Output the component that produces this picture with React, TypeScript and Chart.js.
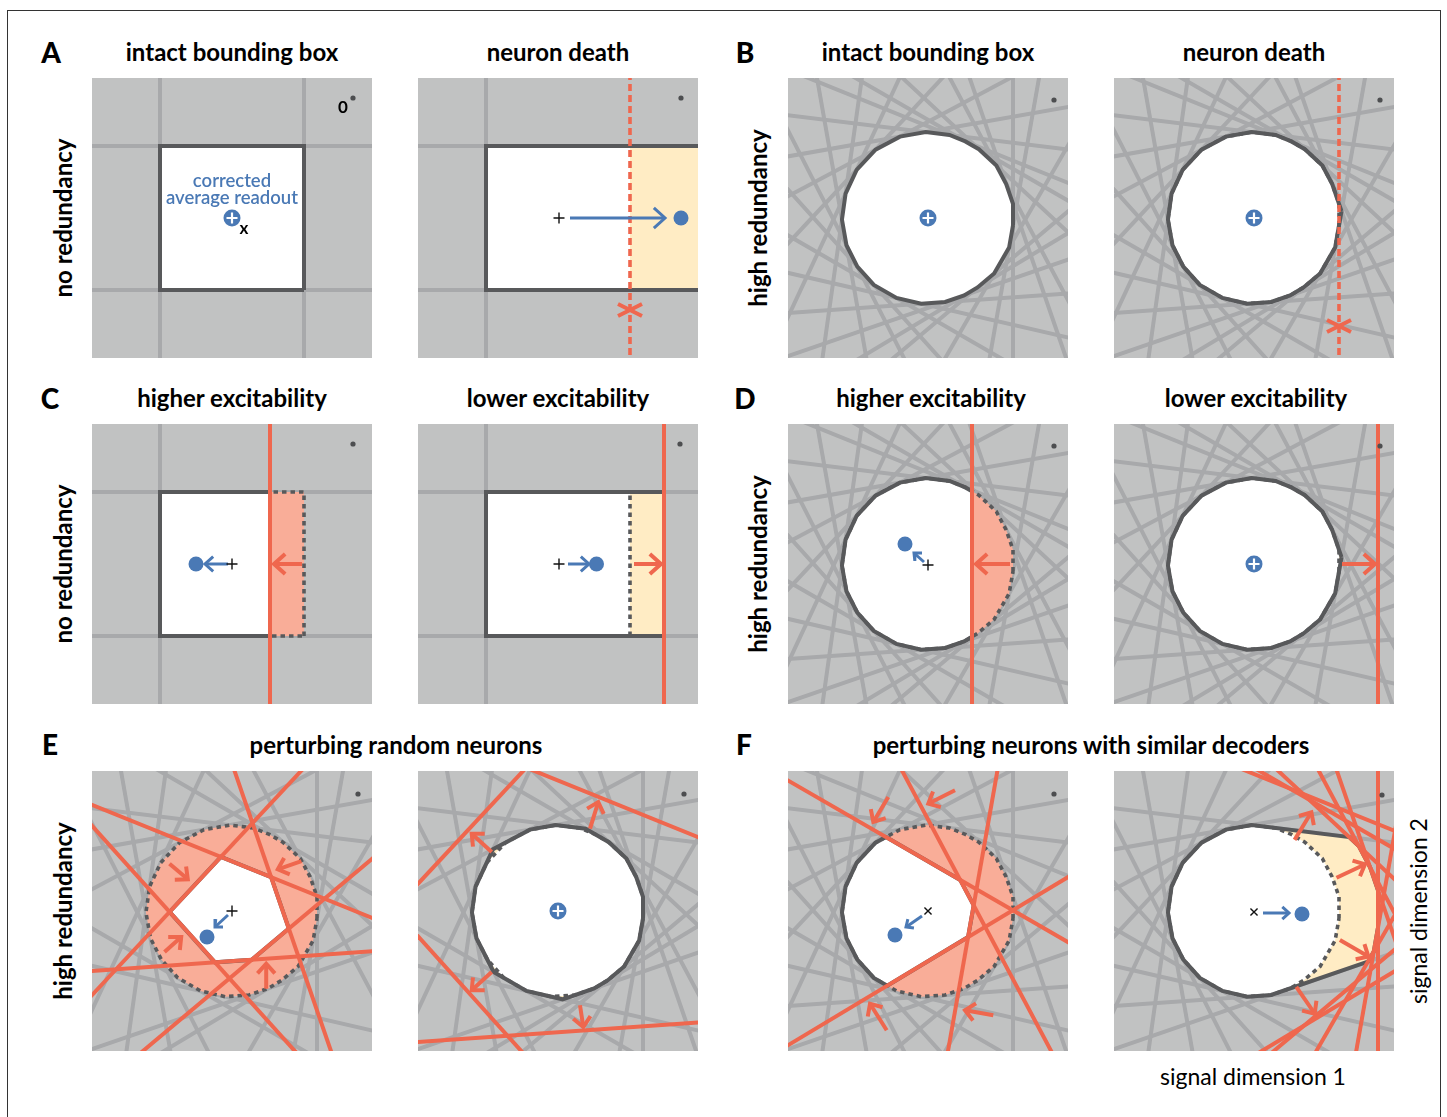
import React, { useEffect, useRef } from 'react';
import { Chart, registerables } from 'chart.js';
Chart.register(...registerables);

// ---------------- data ----------------
// decoder (normal) angles in degrees and thresholds (distance of bounding line from centre)
const boxAngles = [0, 90, 180, 270];
const boxThreshold = 72;
const netAngles = [0, 19, 28, 47, 60, 68, 83, 100, 118, 137, 155, 172, 190, 207, 222, 240, 257, 274, 289, 301, 310, 330, 350];
const netThreshold = 85;

// perturbed neurons: angle -> new threshold
const boxDeadAngles = [0];
const netDeadAngles = [0];
const boxUpAngles = [0];
const boxUpThr = [38];
const boxDownAngles = [0];
const boxDownThr = [106];
const netUpAngles = [0];
const netUpThr = [44];
const netDownAngles = [0];
const netDownThr = [124];
const randUpAngles = [19, 68, 137, 222, 274, 310];
const randUpThr = [48, 46, 45, 47, 50, 50];
const randDownAngles = [68, 137, 222, 274];
const randDownThr = [121, 121, 121, 121];
const simUpAngles = [60, 28, 350, 301];
const simUpThr = [43, 43, 44, 43];
const simDownAngles = [68, 60, 47, 28, 19, 0, 350, 330, 310, 301];
const simDownThr = [127, 124, 119, 123, 124, 124, 125, 124, 120, 124];

// threshold-shift arrows [x1, y1, x2, y2]
const redArrowsC1 = [[70, 0, 42, 0]];
const redArrowsC2 = [[76, 0, 103, 0]];
const redArrowsD1 = [[82, 0, 48, 0]];
const redArrowsD2 = [[88, 0, 121, 0]];
const redArrowsE1 = [[-62.5, 47.3, -44.2, 31.7], [69.4, 49.8, 45.8, 41.7], [-67.5, -41, -50.8, -26], [34.2, -77.7, 34.2, -52.7]];
const redArrowsE2 = [[-66.3, 59, -86.3, 77.3], [32, 82.3, 40.3, 109], [-66.3, -61, -86.3, -79.3], [22, -94.3, 25.3, -116]];
const redArrowsF1 = [[-39.7, 114, -54.7, 89], [27, 120.7, 0.3, 107.3], [-41.3, -119.3, -58, -92.7], [65.3, -104.3, 37, -99.3]];
const redArrowsF2 = [[40.6, 71.1, 57.4, 98.7], [82.5, 33.2, 111, 46.7], [85.9, -28.9, 114.4, -45.6], [42.3, -75.8, 60.7, -102.7]];

// readout shift arrows [x1, y1, x2, y2] and readout positions [x, y]
const blueArrowA2 = [12, 0, 107, 0];
const blueArrowC1 = [-4, 0, -27, 0];
const blueArrowC2 = [10, 0, 31, 0];
const blueArrowD1 = [-4, 2, -14, 11];
const blueArrowE1 = [-4, -4, -17, -16];
const blueArrowF1 = [-6, -5, -22, -16];
const blueArrowF2 = [9, -2, 35, -2];
const readoutA2 = [123, 0];
const readoutC1 = [-36, 0];
const readoutC2 = [38.5, 0];
const readoutD1 = [-23, 20];
const readoutE1 = [-25, -26];
const readoutF1 = [-33, -24];
const readoutF2 = [48, -3];
const deadMarkA2 = [72, -92];
const deadMarkB2 = [85, -108];
const originBox = [121, 120];
const originNet = [126, 118];

// ---------------- styles ----------------
const BG = '#c1c2c2';
const GRAY = '#a8a9ab';
const DARK = '#58595b';
const RED = '#ef674e';
const SALMON = '#f9ad98';
const YELLOW = '#ffecc4';
const BLUE = '#4a79b5';
const FONT = "Lato, 'Open Sans', sans-serif";
const PANEL = 280;
const HALF = 140;

type Pt = { x: number; y: number };
type HL = { a: number; d: number };

function seg(a: number, d: number): Pt[] {
  const r = (a * Math.PI) / 180;
  const c = Math.cos(r), s = Math.sin(r);
  const tx = d * c, ty = d * s, e = 500;
  return [{ x: tx + s * e, y: ty - c * e }, { x: tx - s * e, y: ty + c * e }];
}

function region(lines: HL[]): Pt[] {
  let poly: Pt[] = [{ x: -400, y: -400 }, { x: 400, y: -400 }, { x: 400, y: 400 }, { x: -400, y: 400 }];
  for (const l of lines) {
    const r = (l.a * Math.PI) / 180;
    const nx = Math.cos(r), ny = Math.sin(r);
    const out: Pt[] = [];
    for (let i = 0; i < poly.length; i++) {
      const P = poly[i], Q = poly[(i + 1) % poly.length];
      const fp = nx * P.x + ny * P.y - l.d, fq = nx * Q.x + ny * Q.y - l.d;
      if (fp <= 0) out.push(P);
      if ((fp < 0 && fq > 0) || (fp > 0 && fq < 0)) {
        const t = fp / (fp - fq);
        out.push({ x: P.x + t * (Q.x - P.x), y: P.y + t * (Q.y - P.y) });
      }
    }
    poly = out;
  }
  return poly;
}

interface Spec {
  left: number; top: number;
  angles: number[]; thr: number;
  pertA?: number[]; pertD?: number[];
  dead?: number[];
  mode: 'none' | 'shrink' | 'expand';
  oldDashed?: boolean;
  redArrows?: number[][]; redHead?: number;
  blueArrow?: number[]; blueHead?: number;
  start?: number[]; startKind?: 'center' | 'plus' | 'cross';
  dot?: number[];
  deadMark?: number[];
  origin: number[];
}

function buildDatasets(s: Spec) {
  const list: any[] = [];
  const line = (data: Pt[], color: string, width: number, extra: any = {}) =>
    list.push({ data, showLine: true, pointRadius: 0, borderColor: color, borderWidth: width, fill: false, borderCapStyle: 'butt', ...extra });
  const area = (poly: Pt[], color: string) =>
    list.push({ data: [...poly, poly[0]], showLine: true, pointRadius: 0, borderColor: 'rgba(0,0,0,0)', borderWidth: 0, backgroundColor: color, fill: 'shape' });
  const point = (p: number[], r: number, style: string, fillC: string, stroke: string, bw: number) =>
    list.push({ data: [{ x: p[0], y: p[1] }], showLine: false, pointRadius: r, pointStyle: style, pointBackgroundColor: fillC, pointBorderColor: stroke, pointBorderWidth: bw });
  const arrow = (a: number[], color: string, width: number, head: number) => {
    const [x1, y1, x2, y2] = a;
    const L = Math.hypot(x2 - x1, y2 - y1);
    const ux = (x2 - x1) / L, uy = (y2 - y1) / L;
    const ang = (42 * Math.PI) / 180;
    const w = (sgn: number) => {
      const c = Math.cos(sgn * ang), sn = Math.sin(sgn * ang);
      return { x: x2 - head * (ux * c - uy * sn), y: y2 - head * (ux * sn + uy * c) };
    };
    line([{ x: x1, y: y1 }, { x: x2 - ux * 1.5, y: y2 - uy * 1.5 }], color, width);
    line([w(1), { x: x2, y: y2 }, w(-1)], color, width, { borderJoinStyle: 'miter' });
  };

  const pertA = s.pertA || [];
  const pertD = s.pertD || [];
  const dead = s.dead || [];
  for (const a of s.angles) if (!pertA.includes(a) && !dead.includes(a)) line(seg(a, s.thr), GRAY, 4);

  const oldLines = s.angles.map((a) => ({ a, d: s.thr }));
  const newLines = s.angles.filter((a) => !dead.includes(a)).map((a) => {
    const k = pertA.indexOf(a);
    return { a, d: k >= 0 ? pertD[k] : s.thr };
  });
  const oldPoly = region(oldLines);
  const newPoly = region(newLines);
  if (s.mode === 'none') {
    area(oldPoly, '#ffffff');
  } else if (s.mode === 'shrink') {
    area(oldPoly, SALMON);
    area(newPoly, '#ffffff');
  } else {
    area(newPoly, YELLOW);
    area(oldPoly, '#ffffff');
  }
  if (s.mode !== 'none' && s.oldDashed) line([...oldPoly, oldPoly[0]], DARK, 3.6, { borderDash: [4.5, 4] });
  const outline = s.mode === 'none' ? oldPoly : newPoly;
  line([...outline, outline[0]], DARK, 4, { borderJoinStyle: 'miter' });

  pertA.forEach((a, i) => line(seg(a, pertD[i]), RED, 4));
  dead.forEach((a) => line(seg(a, s.thr), RED, 3.6, { borderDash: [7, 4] }));
  (s.redArrows || []).forEach((a) => arrow(a, RED, 4, s.redHead || 13));
  if (s.deadMark) {
    const [mx, my] = s.deadMark;
    line([{ x: mx - 12, y: my - 6 }, { x: mx + 12, y: my + 6 }], RED, 4);
    line([{ x: mx - 12, y: my + 6 }, { x: mx + 12, y: my - 6 }], RED, 4);
  }
  if (s.blueArrow) arrow(s.blueArrow, BLUE, 3, s.blueHead || 9);
  if (s.dot) point(s.dot, 7.5, 'circle', BLUE, BLUE, 0);
  if (s.start) {
    if (s.startKind === 'center') {
      point(s.start, 8.5, 'circle', BLUE, BLUE, 0);
      point(s.start, 5.5, 'cross', '#ffffff', '#ffffff', 2.2);
    } else if (s.startKind === 'cross') {
      point(s.start, 5, 'crossRot', '#000', '#111', 1.4);
    } else {
      point(s.start, 5.5, 'cross', '#000', '#111', 1.4);
    }
  }
  point(s.origin, 2.6, 'circle', '#4d4e50', '#4d4e50', 0);
  list.forEach((d, i) => (d.order = -i));
  return list;
}

const COLS = [92, 418, 788, 1114];
const ROWS = [78, 424, 771];

const specs: Spec[] = [
  { left: COLS[0], top: ROWS[0], angles: boxAngles, thr: boxThreshold, mode: 'none', start: [0, 0], startKind: 'center', origin: originBox },
  { left: COLS[1], top: ROWS[0], angles: boxAngles, thr: boxThreshold, dead: boxDeadAngles, mode: 'expand', oldDashed: false, blueArrow: blueArrowA2, blueHead: 15, start: [1, 0], startKind: 'plus', dot: readoutA2, deadMark: deadMarkA2, origin: [123, 120] },
  { left: COLS[2], top: ROWS[0], angles: netAngles, thr: netThreshold, mode: 'none', start: [0, 0], startKind: 'center', origin: originNet },
  { left: COLS[3], top: ROWS[0], angles: netAngles, thr: netThreshold, dead: netDeadAngles, mode: 'expand', oldDashed: true, start: [0, 0], startKind: 'center', deadMark: deadMarkB2, origin: originNet },
  { left: COLS[0], top: ROWS[1], angles: boxAngles, thr: boxThreshold, pertA: boxUpAngles, pertD: boxUpThr, mode: 'shrink', oldDashed: true, redArrows: redArrowsC1, redHead: 15, blueArrow: blueArrowC1, blueHead: 11, start: [0, 0], startKind: 'plus', dot: readoutC1, origin: originBox },
  { left: COLS[1], top: ROWS[1], angles: boxAngles, thr: boxThreshold, pertA: boxDownAngles, pertD: boxDownThr, mode: 'expand', oldDashed: true, redArrows: redArrowsC2, redHead: 15, blueArrow: blueArrowC2, blueHead: 11, start: [1, 0], startKind: 'plus', dot: readoutC2, origin: [122, 120] },
  { left: COLS[2], top: ROWS[1], angles: netAngles, thr: netThreshold, pertA: netUpAngles, pertD: netUpThr, mode: 'shrink', oldDashed: true, redArrows: redArrowsD1, redHead: 15, blueArrow: blueArrowD1, blueHead: 8, start: [0, -1], startKind: 'plus', dot: readoutD1, origin: originNet },
  { left: COLS[3], top: ROWS[1], angles: netAngles, thr: netThreshold, pertA: netDownAngles, pertD: netDownThr, mode: 'expand', oldDashed: true, redArrows: redArrowsD2, redHead: 15, start: [0, 0], startKind: 'center', origin: originNet },
  { left: COLS[0], top: ROWS[2], angles: netAngles, thr: netThreshold, pertA: randUpAngles, pertD: randUpThr, mode: 'shrink', oldDashed: true, redArrows: redArrowsE1, blueArrow: blueArrowE1, blueHead: 8, start: [0, 0], startKind: 'plus', dot: readoutE1, origin: [126, 117] },
  { left: COLS[1], top: ROWS[2], angles: netAngles, thr: netThreshold, pertA: randDownAngles, pertD: randDownThr, mode: 'expand', oldDashed: true, redArrows: redArrowsE2, start: [0, 0], startKind: 'center', origin: [126, 117] },
  { left: COLS[2], top: ROWS[2], angles: netAngles, thr: netThreshold, pertA: simUpAngles, pertD: simUpThr, mode: 'shrink', oldDashed: true, redArrows: redArrowsF1, blueArrow: blueArrowF1, blueHead: 8, start: [0, 0], startKind: 'cross', dot: readoutF1, origin: [126, 117] },
  { left: COLS[3], top: ROWS[2], angles: netAngles, thr: netThreshold, pertA: simDownAngles, pertD: simDownThr, mode: 'expand', oldDashed: true, redArrows: redArrowsF2, blueArrow: blueArrowF2, blueHead: 9, start: [0, -1], startKind: 'cross', dot: readoutF2, origin: [128, 116] },
];

// ---------------- text ----------------
const panelLetters = ['A', 'B', 'C', 'D', 'E', 'F'];
const letterPos = [[51, 52], [745, 52], [50, 398], [745, 398], [50, 744], [744, 744]];
const titles = ['intact bounding box', 'neuron death', 'intact bounding box', 'neuron death', 'higher excitability', 'lower excitability', 'higher excitability', 'lower excitability', 'perturbing random neurons', 'perturbing neurons with similar decoders'];
const titlePos = [[232, 52], [558, 52], [928, 52], [1254, 52], [232, 398], [558, 398], [931, 398], [1256, 398], [396, 745], [1091, 745]];
const rowLabels = ['no redundancy', 'high redundancy', 'no redundancy', 'high redundancy', 'high redundancy'];
const rowLabelPos = [[63, 218], [758, 218], [63, 564], [758, 564], [63, 911]];

function Panel({ spec }: { spec: Spec }) {
  const ref = useRef<HTMLCanvasElement>(null);
  useEffect(() => {
    const chart = new Chart(ref.current as HTMLCanvasElement, {
      type: 'scatter',
      data: { datasets: buildDatasets(spec) },
      options: {
        animation: false,
        responsive: false,
        maintainAspectRatio: false,
        events: [],
        layout: { padding: 0, autoPadding: false },
        scales: {
          x: { type: 'linear', min: -HALF, max: HALF, display: false },
          y: { type: 'linear', min: -HALF, max: HALF, display: false },
        },
        plugins: {
          legend: { display: false },
          tooltip: { enabled: false },
          filler: { drawTime: 'beforeDatasetDraw', propagate: false },
        },
        elements: { line: { tension: 0 }, point: { hoverRadius: 0 } },
      } as any,
    });
    return () => chart.destroy();
  }, []);
  return (
    <canvas
      ref={ref}
      width={PANEL}
      height={PANEL}
      style={{ position: 'absolute', left: spec.left, top: spec.top, width: PANEL, height: PANEL, background: BG }}
    />
  );
}

function Label(p: { text: string; x: number; y: number; size: number; weight?: number; rotate?: boolean; color?: string; ls?: number }) {
  return (
    <div
      style={{
        position: 'absolute', left: p.x, top: p.y,
        transform: `translate(-50%, -50%)${p.rotate ? ' rotate(-90deg)' : ''}`,
        whiteSpace: 'nowrap', fontFamily: FONT, fontSize: p.size, fontWeight: p.weight ?? 700,
        lineHeight: 1, color: p.color ?? '#000', letterSpacing: p.ls ?? 0,
      }}
    >
      {p.text}
    </div>
  );
}

export default function App() {
  return (
    <div style={{ position: 'absolute', left: 0, top: 0, width: 1447, height: 1117, background: '#fff', overflow: 'hidden' }}>
      <div style={{ position: 'absolute', left: 7, top: 10, width: 1434, height: 1130, border: '1px solid #333', boxSizing: 'border-box' }} />
      {specs.map((s, i) => <Panel key={i} spec={s} />)}
      {panelLetters.map((t, i) => <Label key={'l' + i} text={t} x={letterPos[i][0]} y={letterPos[i][1]} size={28} weight={900} />)}
      {titles.map((t, i) => <Label key={'t' + i} text={t} x={titlePos[i][0]} y={titlePos[i][1]} size={24} />)}
      {rowLabels.map((t, i) => <Label key={'r' + i} text={t} x={rowLabelPos[i][0]} y={rowLabelPos[i][1]} size={24} rotate />)}
      <Label text="corrected" x={232} y={180} size={18.5} weight={600} color={BLUE} />
      <Label text="average readout" x={232} y={197} size={18.5} weight={600} color={BLUE} />
      <Label text="x" x={244} y={227} size={17} weight={700} />
      <Label text="0" x={343} y={106} size={17} weight={700} />
      <Label text="signal dimension 1" x={1253} y={1076} size={23} weight={400} />
      <Label text="signal dimension 2" x={1418} y={911} size={23} weight={400} rotate />
    </div>
  );
}
